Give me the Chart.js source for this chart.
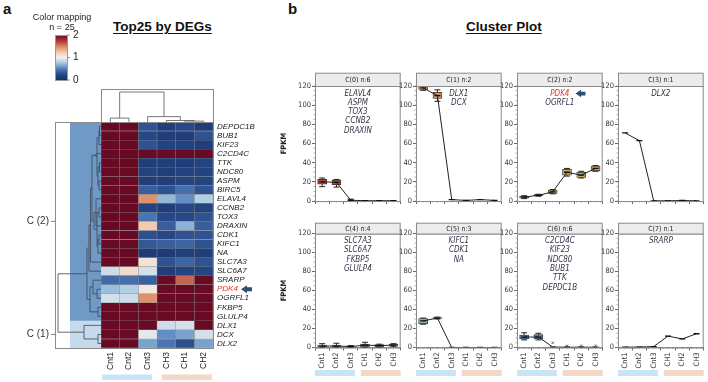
<!DOCTYPE html>
<html>
<head>
<meta charset="utf-8">
<script src="https://cdn.jsdelivr.net/npm/chart.js@4.4.1/dist/chart.umd.min.js"></script>
<style>
  html, body { margin: 0; padding: 0; background: #fff; }
  #page { position: relative; width: 708px; height: 382px; overflow: hidden; font-family: "Liberation Sans", Arial, sans-serif; }
  #page canvas { position: absolute; }
  .txt { position: absolute; white-space: nowrap; color: #111; }
  .ttl { font-weight: bold; font-size: 13.5px; text-decoration: underline; text-underline-offset: 2px; line-height: 14px; }
  .lab { font-weight: bold; font-size: 15px; line-height: 15px; }
</style>
</head>
<body>
<div id="page">
  <div class="txt lab" style="left:3px;top:1px">a</div>
  <div class="txt lab" style="left:288px;top:1px">b</div>
  <div class="txt ttl" style="left:113px;top:20px">Top25 by DEGs</div>
  <div class="txt ttl" style="left:466px;top:20px">Cluster Plot</div>
  <canvas id="heat" width="280" height="382" style="left:0;top:0"></canvas>
</div>
<script>
// ---- heatmap data (rows = genes, one array per sample column) ----
var genes = ['DEPDC1B', 'BUB1', 'KIF23', 'C2CD4C', 'TTK', 'NDC80', 'ASPM', 'BIRC5', 'ELAVL4', 'CCNB2',
  'TOX3', 'DRAXIN', 'CDK1', 'KIFC1', 'NA', 'SLC7A3', 'SLC6A7', 'SRARP', 'PDK4', 'OGRFL1',
  'FKBP5', 'GLULP4', 'DLX1', 'DCX', 'DLX2'];
var samples = ['Cnt1', 'Cnt2', 'Cnt3', 'CH3', 'CH1', 'CH2'];
var valCnt1 = [2, 2, 2, 2, 2, 2, 2, 2, 2, 2, 2, 2, 2, 2, 2, 2, 0.88, 0.4, 0.72, 0.9, 2, 2, 2, 2, 2];
var valCnt2 = [2, 2, 2, 2, 2, 2, 2, 2, 2, 2, 2, 2, 2, 2, 2, 2, 1.12, 0.42, 0.8, 0.88, 2, 2, 2, 2, 2];
var valCnt3 = [0.3, 0.25, 0.3, 2, 0.15, 0.2, 0.15, 0.35, 1.45, 0.2, 0.45, 1.22, 0.28, 0.32, 0.12, 1.08, 0.9, 0.36, 1.05, 1.45, 2, 2, 2, 0.95, 0.62];
var valCH3 = [0.15, 0.15, 0.2, 2, 0.15, 0.15, 0.15, 0.3, 0.7, 0.15, 0.25, 0.35, 0.25, 0.35, 0.1, 0.3, 0.15, 2, 2, 2, 2, 2, 0.88, 0.55, 0.45];
var valCH1 = [0.25, 0.15, 0.2, 2, 0.15, 0.2, 0.2, 0.42, 0.55, 0.25, 0.25, 0.68, 0.3, 0.38, 0.15, 0.38, 0.2, 1.6, 2, 2, 2, 2, 0.9, 0.62, 0.28];
var valCH2 = [0.15, 0.3, 0.15, 2, 0.2, 0.2, 0.2, 0.3, 0.8, 0.2, 0.3, 0.35, 0.3, 0.3, 0.15, 0.3, 0.2, 2, 2, 2, 2, 2, 2, 0.9, 0.62];
var heatCols = [valCnt1, valCnt2, valCnt3, valCH3, valCH1, valCH2];
var rowClusters = [['C (2)', 0, 21], ['C (1)', 22, 24]];

// dendrograms: [childA, childB, height]; ids past the leaves refer to earlier merges
var rowLinkage = [[0, 1, 0.035], [25, 2, 0.047], [4, 5, 0.035], [6, 7, 0.047], [27, 28, 0.07], [26, 29, 0.093],
  [3, 30, 0.116], [9, 10, 0.047], [12, 13, 0.047], [33, 14, 0.07], [32, 34, 0.093], [8, 11, 0.116],
  [35, 36, 0.163], [31, 37, 0.21], [38, 15, 0.244], [39, 16, 0.28], [18, 19, 0.093], [17, 41, 0.186],
  [20, 21, 0.07], [42, 43, 0.256], [40, 44, 0.326], [23, 24, 0.07], [22, 46, 0.395], [45, 47, 1.0]];
var colLinkage = [[0, 1, 0.13], [4, 5, 0.03], [3, 7, 0.05], [2, 8, 0.18], [6, 9, 1.0]];

// ---- cluster plot data ----
var clusterNames = ['C(0) n:6', 'C(1) n:2', 'C(2) n:2', 'C(3) n:1', 'C(4) n:4', 'C(5) n:3', 'C(6) n:6', 'C(7) n:1'];
var clusterGenes = [['ELAVL4', 'ASPM', 'TOX3', 'CCNB2', 'DRAXIN'], ['DLX1', 'DCX'], ['PDK4', 'OGRFL1'], ['DLX2'],
  ['SLC7A3', 'SLC6A7', 'FKBP5', 'GLULP4'], ['KIFC1', 'CDK1', 'NA'],
  ['C2CD4C', 'KIF23', 'NDC80', 'BUB1', 'TTK', 'DEPDC1B'], ['SRARP']];
var plotSamples = ['Cnt1', 'Cnt2', 'Cnt3', 'CH1', 'CH2', 'CH3'];
var yTicks = [0, 20, 40, 60, 80, 100, 120];
var meanFPKM = [
  [20, 19.5, 0.8, 0.3, 0.3, 0.3],
  [118, 110, 1.5, 0.6, 1.5, 0.6],
  [4, 6, 9.5, 30, 27, 34],
  [71, 63, 0.2, 0.2, 0.5, 0.2],
  [1.5, 1.5, 1, 2.5, 2, 2.5],
  [28, 31, 0, 0, 0, 0],
  [11, 11, 0.5, 0.3, 0.3, 0.3],
  [0.3, 0.5, 1, 12, 9, 14.5]
];
var boxLow = [
  [17.5, 17, null, null, null, null],
  [116.5, 107, null, null, null, null],
  [3, 5.3, 8, 27, 24.5, 31.5],
  [null, null, null, null, null, null],
  [0.5, 0.5, 0.3, 0.8, 0.8, 1.5],
  [25, 30.5, null, null, null, null],
  [9, 9, null, null, null, null],
  [null, null, null, null, null, null]
];
var boxHigh = [
  [22.5, 22, null, null, null, null],
  [120, 113.5, null, null, null, null],
  [5, 6.7, 11.5, 33, 30, 36.5],
  [null, null, null, null, null, null],
  [2.5, 2.5, 1.5, 3.5, 3, 3.5],
  [30.5, 31.5, null, null, null, null],
  [13, 13.5, null, null, null, null],
  [null, null, null, null, null, null]
];
var whiskLow = [
  [15, 14.5, 0, null, null, null],
  [115.5, 104, null, null, null, null],
  [2.5, 5, 7.5, 26, 24, 31],
  [null, null, null, null, null, null],
  [0, 0, 0, 0, 0, 0.8],
  [24.5, 30, null, null, null, null],
  [8, 8, null, null, null, null],
  [null, null, null, null, null, null]
];
var whiskHigh = [
  [24, 22.5, 2, null, null, null],
  [120, 116, null, null, null, null],
  [5.5, 7, 12, 34, 31, 37],
  [null, null, null, null, null, null],
  [4, 4.5, 2, 5.5, 3.5, 4],
  [31, 32, null, null, null, null],
  [15.5, 15, null, null, null, null],
  [null, null, null, null, null, null]
];
var outlierFPKM = [
  [null, null, null, null, null, null], [null, null, null, null, null, null],
  [null, null, null, null, null, null], [null, null, null, null, null, null],
  [null, null, null, null, null, null], [null, null, null, null, null, null],
  [null, null, 5, 1.8, 1.8, 1.8], [null, null, null, null, null, null]
];

// ---- styles ----
var NARROW = '"Liberation Sans Narrow", "DejaVu Sans Condensed", "Liberation Sans", Arial, sans-serif';
var boxColors = ['#b8472f', '#d98a52', '#c8a65e', null, '#c4c6aa', '#8fb0ae', '#5a7ea6', null];
var CNT_BAR = '#c9e5f5';
var CH_BAR = '#f4d8c6';
var ARROW = '#2f4f6f';
var RED_GENE = '#e0342c';
var heatStops = [[0, [26, 48, 102]], [0.25, [38, 72, 136]], [0.5, [84, 128, 188]], [0.75, [163, 198, 225]],
  [1, [243, 241, 239]], [1.25, [244, 196, 164]], [1.5, [217, 132, 98]], [1.75, [172, 52, 55]], [2, [104, 10, 36]]];

Chart.defaults.font.family = NARROW;
Chart.defaults.color = '#333';

function heatColor(v) {
  v = Math.max(0, Math.min(2, v));
  for (var k = 1; k < heatStops.length; k++) {
    if (v <= heatStops[k][0]) {
      var a = heatStops[k - 1], b = heatStops[k];
      var t = (v - a[0]) / (b[0] - a[0]);
      var c = a[1].map(function (x, n) { return Math.round(x + (b[1][n] - x) * t); });
      return 'rgb(' + c.join(',') + ')';
    }
  }
  return 'rgb(104,10,36)';
}

function drawArrow(ctx, x, y, w, h) {
  ctx.save();
  ctx.fillStyle = ARROW;
  ctx.beginPath();
  ctx.moveTo(x, y);
  ctx.lineTo(x + h * 0.75, y - h / 2);
  ctx.lineTo(x + h * 0.75, y - h * 0.25);
  ctx.lineTo(x + w, y - h * 0.25);
  ctx.lineTo(x + w, y + h * 0.25);
  ctx.lineTo(x + h * 0.75, y + h * 0.25);
  ctx.lineTo(x + h * 0.75, y + h / 2);
  ctx.closePath();
  ctx.fill();
  ctx.restore();
}

// ---------------- heatmap ----------------
var heatDeco = {
  id: 'heatDeco',
  afterDraw: function (chart) {
    var ctx = chart.ctx, a = chart.chartArea;
    var xs = chart.scales.x, ys = chart.scales.y;
    var rowH = ys.getPixelForValue(1) - ys.getPixelForValue(0);
    var treeLeft = 58, shadeLeft = 70, frameLeft = 55;
    ctx.save();

    // cluster shading behind the row tree
    rowClusters.forEach(function (c, k) {
      var y0 = ys.getPixelForValue(c[1]) - rowH / 2, y1 = ys.getPixelForValue(c[2]) + rowH / 2;
      ctx.fillStyle = k === 0 ? '#7099c6' : '#c6daec';
      ctx.fillRect(shadeLeft, y0, a.left - shadeLeft, y1 - y0);
      ctx.strokeStyle = '#888'; ctx.lineWidth = 1;
      ctx.beginPath(); ctx.moveTo(frameLeft - 4, (y0 + y1) / 2); ctx.lineTo(frameLeft, (y0 + y1) / 2); ctx.stroke();
      ctx.fillStyle = '#333'; ctx.font = '10px "Liberation Sans", Arial, sans-serif';
      ctx.textAlign = 'right'; ctx.textBaseline = 'middle';
      ctx.fillText(c[0], frameLeft - 6, (y0 + y1) / 2);
    });

    // row dendrogram
    var pos = genes.map(function (g, i) { return { p: ys.getPixelForValue(i), h: 0 }; });
    var depth = a.left - treeLeft;
    ctx.strokeStyle = '#3c4650'; ctx.lineWidth = 0.8;
    ctx.beginPath();
    rowLinkage.forEach(function (m) {
      var p = pos[m[0]], q = pos[m[1]], x = a.left - m[2] * depth;
      ctx.moveTo(a.left - p.h * depth, p.p); ctx.lineTo(x, p.p); ctx.lineTo(x, q.p); ctx.lineTo(a.left - q.h * depth, q.p);
      pos.push({ p: (p.p + q.p) / 2, h: m[2] });
    });
    ctx.stroke();

    // column dendrogram
    var cpos = samples.map(function (s, i) { return { p: xs.getPixelForValue(i + 0.5), h: 0 }; });
    var cdepth = 30;
    ctx.strokeStyle = '#555';
    ctx.beginPath();
    colLinkage.forEach(function (m) {
      var p = cpos[m[0]], q = cpos[m[1]], y = a.top - m[2] * cdepth;
      ctx.moveTo(p.p, a.top - p.h * cdepth); ctx.lineTo(p.p, y); ctx.lineTo(q.p, y); ctx.lineTo(q.p, a.top - q.h * cdepth);
      cpos.push({ p: (p.p + q.p) / 2, h: m[2] });
    });
    ctx.stroke();

    // frames
    ctx.strokeStyle = '#8a8a8a'; ctx.lineWidth = 1;
    ctx.strokeRect(frameLeft + 0.5, a.top + 0.5, a.right - frameLeft, a.bottom - a.top);
    ctx.strokeRect(a.left + 0.5, a.top - 33 + 0.5, a.right - a.left, 33);

    // sample group bars
    var mid = xs.getPixelForValue(3);
    ctx.fillStyle = CNT_BAR; ctx.fillRect(a.left + 1, 374.5, mid - a.left - 6, 5.5);
    ctx.fillStyle = CH_BAR; ctx.fillRect(mid + 5, 374.5, a.right - mid - 6, 5.5);

    // arrow next to PDK4
    drawArrow(ctx, 241, ys.getPixelForValue(genes.indexOf('PDK4')), 11, 8);

    // colour legend
    var cbL = 55, cbT = 35, cbW = 12, cbH = 45;
    var g = ctx.createLinearGradient(0, cbT + cbH, 0, cbT);
    heatStops.forEach(function (s) { g.addColorStop(s[0] / 2, heatColor(s[0])); });
    ctx.fillStyle = g; ctx.fillRect(cbL, cbT, cbW, cbH);
    ctx.strokeStyle = '#999'; ctx.strokeRect(cbL + 0.5, cbT + 0.5, cbW, cbH);
    ctx.fillStyle = '#222'; ctx.font = '10px "Liberation Sans", Arial, sans-serif';
    ctx.textAlign = 'left'; ctx.textBaseline = 'middle';
    [2, 1, 0].forEach(function (v) {
      var y = cbT + cbH * (1 - v / 2);
      ctx.beginPath(); ctx.moveTo(cbL + cbW, y); ctx.lineTo(cbL + cbW + 3, y); ctx.stroke();
      ctx.fillText(String(v), cbL + cbW + 6, y);
    });
    ctx.font = '9px "Liberation Sans", Arial, sans-serif'; ctx.textAlign = 'center';
    ctx.fillText('Color mapping', 62, 18);
    ctx.fillText('n = 25', 62, 28);
    ctx.restore();
  }
};

new Chart(document.getElementById('heat'), {
  type: 'bar',
  data: {
    labels: genes,
    datasets: samples.map(function (s, c) {
      return {
        label: s,
        data: genes.map(function () { return 1; }),
        backgroundColor: heatCols[c].map(heatColor),
        borderColor: 'rgba(30,30,30,0.35)',
        borderWidth: 0.5,
        borderSkipped: false,
        barPercentage: 1,
        categoryPercentage: 1
      };
    })
  },
  options: {
    indexAxis: 'y',
    responsive: false,
    animation: false,
    events: [],
    layout: { padding: { left: 101, top: 122, right: 0, bottom: 0 } },
    plugins: { legend: { display: false }, tooltip: { enabled: false } },
    scales: {
      x: {
        type: 'linear', stacked: true, min: 0, max: 6,
        grid: { display: false, drawTicks: false }, border: { display: false },
        afterBuildTicks: function (ax) { ax.ticks = samples.map(function (s, i) { return { value: i + 0.5 }; }); },
        afterFit: function (ax) { ax.height = 34; },
        ticks: {
          autoSkip: false, minRotation: 90, maxRotation: 90, padding: 4, color: '#222',
          font: { size: 8.5, family: '"Liberation Sans", Arial, sans-serif' },
          callback: function (v, i) { return samples[i]; }
        }
      },
      y: {
        stacked: true, position: 'right',
        grid: { display: false, drawTicks: false }, border: { display: false },
        afterFit: function (ax) { ax.width = 67; },
        ticks: {
          autoSkip: false, padding: 4,
          font: { size: 8, style: 'italic', family: '"Liberation Sans", Arial, sans-serif' },
          color: function (c) { return genes[c.index] === 'PDK4' ? RED_GENE : '#222'; }
        }
      }
    }
  },
  plugins: [heatDeco]
});

// ---------------- cluster plots ----------------
var page = document.getElementById('page');
var panelLefts = [315, 416, 517, 618];
var PANEL_W = 88;

var panelDeco = {
  id: 'panelDeco',
  beforeDatasetsDraw: function (chart, args, o) {
    var ctx = chart.ctx, xs = chart.scales.x, ys = chart.scales.y;
    ctx.save();
    ctx.strokeStyle = '#222'; ctx.lineWidth = 1;
    whiskLow[o.idx].forEach(function (lo, j) {
      if (lo === null) return;
      var x = xs.getPixelForValue(j), y0 = ys.getPixelForValue(lo), y1 = ys.getPixelForValue(whiskHigh[o.idx][j]);
      ctx.beginPath();
      ctx.moveTo(x, y0); ctx.lineTo(x, y1);
      ctx.moveTo(x - 3, y0); ctx.lineTo(x + 3, y0);
      ctx.moveTo(x - 3, y1); ctx.lineTo(x + 3, y1);
      ctx.stroke();
    });
    ctx.restore();
  },
  afterDraw: function (chart, args, o) {
    var ctx = chart.ctx, a = chart.chartArea, xs = chart.scales.x, ys = chart.scales.y;
    ctx.save();
    // minor ticks
    ctx.strokeStyle = '#777'; ctx.lineWidth = 0.6;
    ctx.beginPath();
    for (var v = 0; v <= 120; v += 5) {
      var y = ys.getPixelForValue(v);
      ctx.moveTo(a.left - 1.5, y); ctx.lineTo(a.left, y);
    }
    var step = (xs.getPixelForValue(1) - xs.getPixelForValue(0)) / 3;
    for (var x = a.left + step / 2; x < a.right; x += step) {
      ctx.moveTo(x, a.bottom); ctx.lineTo(x, a.bottom + 1.5);
    }
    ctx.stroke();
    // frame and header
    ctx.strokeStyle = '#8a8a8a'; ctx.lineWidth = 1;
    ctx.strokeRect(a.left + 0.5, a.top + 0.5, a.right - a.left - 1, a.bottom - a.top);
    ctx.fillStyle = '#ececec';
    ctx.fillRect(a.left + 0.5, a.top - o.headH + 0.5, a.right - a.left - 1, o.headH);
    ctx.strokeRect(a.left + 0.5, a.top - o.headH + 0.5, a.right - a.left - 1, o.headH);
    ctx.fillStyle = '#222'; ctx.font = '7px ' + NARROW;
    ctx.textAlign = 'center'; ctx.textBaseline = 'middle';
    ctx.fillText(clusterNames[o.idx], (a.left + a.right) / 2, a.top - o.headH / 2 + 1);
    // gene names
    ctx.font = 'italic 8px ' + NARROW;
    clusterGenes[o.idx].forEach(function (gn, k) {
      var y = a.top + 7.5 + k * 9.3, cx = (a.left + a.right) / 2;
      ctx.fillStyle = gn === 'PDK4' ? RED_GENE : '#33334a';
      ctx.fillText(gn, cx, y);
      if (gn === 'PDK4') drawArrow(ctx, cx + ctx.measureText(gn).width / 2 + 6, y, 10, 7.5);
    });
    // sample group bars (bottom row)
    if (o.bars) {
      var mid = (xs.getPixelForValue(2) + xs.getPixelForValue(3)) / 2;
      ctx.fillStyle = CNT_BAR; ctx.fillRect(a.left, a.bottom + 22.5, mid - a.left - 3, 6);
      ctx.fillStyle = CH_BAR; ctx.fillRect(mid + 3, a.bottom + 22.5, a.right - mid - 3, 6);
    }
    ctx.restore();
  }
};

clusterNames.forEach(function (name, i) {
  var col = i % 4, row = Math.floor(i / 4);
  var axisW = col === 0 ? 35 : 26;
  var cv = document.createElement('canvas');
  cv.width = axisW + PANEL_W + 3;
  cv.height = row === 0 ? 145 : 162;
  cv.style.left = (panelLefts[col] - axisW) + 'px';
  cv.style.top = (row === 0 ? 70 : 220) + 'px';
  page.appendChild(cv);
  var headH = row === 0 ? 13.3 : 10.8;

  new Chart(cv, {
    data: {
      labels: plotSamples,
      datasets: [
        {
          type: 'line', data: meanFPKM[i], order: 0,
          borderColor: '#222', borderWidth: 1, tension: 0,
          pointStyle: 'line', pointRadius: 3, pointBorderWidth: 1.3, pointBorderColor: '#111'
        },
        {
          type: 'line', data: outlierFPKM[i], order: 0, showLine: false,
          pointStyle: 'crossRot', pointRadius: 1.6, pointBorderWidth: 0.8, pointBorderColor: '#444'
        },
        {
          type: 'bar', order: 1,
          data: boxLow[i].map(function (lo, j) { return lo === null ? null : [lo, boxHigh[i][j]]; }),
          backgroundColor: boxColors[i] || '#999', borderColor: '#333', borderWidth: 0.8,
          borderSkipped: false, barThickness: 9
        }
      ]
    },
    options: {
      responsive: false,
      animation: false,
      events: [],
      layout: { padding: { top: (row === 0 ? 16 : 13.5), right: 3, left: 0, bottom: 0 } },
      plugins: {
        legend: { display: false }, tooltip: { enabled: false },
        panelDeco: { idx: i, headH: headH, bars: row === 1 }
      },
      scales: {
        x: {
          grid: { display: true, drawOnChartArea: false, tickLength: 3, color: '#666' },
          border: { color: '#8a8a8a' },
          afterFit: function (ax) { ax.height = row === 0 ? 14 : 34.5; },
          ticks: {
            display: row === 1, autoSkip: false, minRotation: 90, maxRotation: 90, padding: 2,
            color: '#333', font: { size: 7.5 }
          }
        },
        y: {
          min: 0, max: 120,
          afterBuildTicks: function (ax) { ax.ticks = yTicks.map(function (v) { return { value: v }; }); },
          afterFit: function (ax) { ax.width = axisW; },
          grid: { display: true, drawOnChartArea: false, tickLength: 3, color: '#666' },
          border: { color: '#8a8a8a' },
          ticks: { padding: 1, color: '#333', font: { size: 7.5 } },
          title: { display: col === 0, text: 'FPKM', color: '#222', padding: 0, font: { size: 7.5, weight: 'bold' } }
        }
      }
    },
    plugins: [panelDeco]
  });
});
</script>
</body>
</html>
